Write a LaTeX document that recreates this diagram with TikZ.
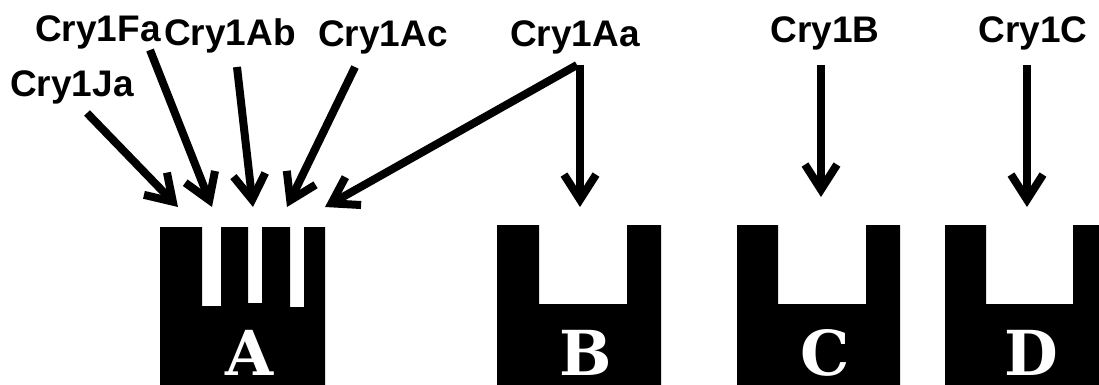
\documentclass[tikz,border=0pt]{standalone}
\usepackage{fontspec}
\setmainfont{Liberation Sans}
\newfontfamily\blockfont{DejaVu Serif}
\usetikzlibrary{arrows.meta}
\begin{document}
\begin{tikzpicture}[x=1pt,y=-1pt,
  lbl/.style={font=\fontsize{37}{42}\selectfont\bfseries, anchor=base, inner sep=0pt},
  arr/.style={line width=8pt, -{Straight Barb[length=25pt,width=32pt,line join=miter]}},
  blk/.style={fill=black, draw=none},
  letter/.style={font=\blockfont\fontsize{62}{64}\selectfont\bfseries, text=white, anchor=base, inner sep=0pt}]
\useasboundingbox (0,0) rectangle (1099,385);
% blocks
\fill[blk] (160,385) -- (160,227) -- (202,227) -- (202,306) -- (221,306) -- (221,227)
  -- (248,227) -- (248,303) -- (262,303) -- (262,227) -- (290,227) -- (290,307)
  -- (304,307) -- (304,227) -- (325,227) -- (325,385) -- cycle;
\fill[blk] (497,385) -- (497,225) -- (539,225) -- (539,304) -- (627,304) -- (627,225) -- (661,225) -- (661,385) -- cycle;
\fill[blk] (737,385) -- (737,225) -- (778,225) -- (778,304) -- (866,304) -- (866,225) -- (900,225) -- (900,385) -- cycle;
\fill[blk] (945,385) -- (945,225) -- (986,225) -- (986,304) -- (1073,304) -- (1073,225) -- (1099,225) -- (1099,385) -- cycle;
% block letters
\node[letter] (lA) at (250,375) {A};
\node[letter] (lB) at (586,375) {B};
\node[letter] (lC) at (825,375) {C};
\node[letter] (lD) at (1031,375) {D};
% labels
\node[lbl] (ja) at (72,97) {Cry1Ja};
\node[lbl] (fa) at (98,42) {Cry1Fa};
\node[lbl] (ab) at (230,46) {Cry1Ab};
\node[lbl] (ac) at (383,47) {Cry1Ac};
\node[lbl] (aa) at (575,47) {Cry1Aa};
\node[lbl] (cb) at (825,43) {Cry1B};
\node[lbl] (cc) at (1033,43) {Cry1C};
% arrow ends
\coordinate (jaS) at (87,113);  \coordinate (jaT) at (178,207);
\coordinate (faS) at (150,50);  \coordinate (faT) at (212,207);
\coordinate (abS) at (237,67);  \coordinate (abT) at (253,207);
\coordinate (acS) at (355,67);  \coordinate (acT) at (287,207);
\coordinate (aaS) at (577,65);  \coordinate (aaT1) at (325,207);
\coordinate (aaS2) at (580,65); \coordinate (aaT2) at (580,207);
\coordinate (cbS) at (821,65);  \coordinate (cbT) at (821,197);
\coordinate (ccS) at (1027,65); \coordinate (ccT) at (1027,207);
\draw[arr] (jaS) -- (jaT);
\draw[arr] (faS) -- (faT);
\draw[arr] (abS) -- (abT);
\draw[arr] (acS) -- (acT);
\draw[arr] (aaS) -- (aaT1);
\draw[arr] (aaS2) -- (aaT2);
\draw[arr] (cbS) -- (cbT);
\draw[arr] (ccS) -- (ccT);
\end{tikzpicture}
\end{document}
